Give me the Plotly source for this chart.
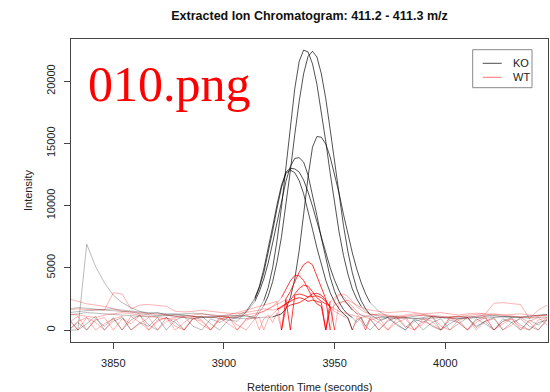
import plotly.graph_objects as go

# ---------------- data ----------------
rt = [3830, 3834, 3838, 3842, 3846, 3850, 3854, 3858, 3862, 3866, 3870, 3874, 3878, 3882, 3886, 3890, 3894, 3898, 3902, 3906, 3910, 3914,
      3916, 3918, 3920, 3922, 3924, 3926, 3928, 3930, 3932, 3934, 3936, 3938, 3940, 3942, 3944, 3946, 3948, 3950, 3952, 3954, 3956, 3958, 3960, 3962, 3964, 3966,
      3970, 3974, 3978, 3982, 3986, 3990, 3994, 3998, 4002, 4006, 4010, 4014, 4018, 4022, 4026, 4030, 4034, 4038, 4042, 4046]

ko1 = ([1400, 1500, 1550, 1600, 1650, 1700, 1600, 1500, 1450, 1400, 1350, 1300, 1250, 1300, 1350, 1300, 1200, 1150, 1200, 1150, 1100, 1050]
       + [1730, 2370, 3420, 5000, 7200, 9900, 13100, 16400, 19400, 21600, 22500, 22350, 21400, 19750, 17600, 15150, 12600, 10100, 7900, 6000, 4500, 3300, 2500, 1900, 1500, 1250]
       + [1100, 1000, 900, 1000, 1100, 1200, 1100, 1000, 900, 950, 1000, 1100, 1200, 1150, 1100, 1000, 1050, 1100, 1200, 1250])
ko2 = ([0, 600, 0, 900, 300, 1000, 0, 800, 1200, 400, 0, 1000, 600, 0, 900, 1100, 500, 0, 800, 1000, 1200, 900]
       + [1460, 1960, 2740, 3890, 5500, 7500, 10000, 12800, 15700, 18400, 20600, 22000, 22400, 21950, 20600, 18600, 16100, 13400, 10800, 8400, 6300, 4600, 3300, 2350, 1700, 1250]
       + [800, 1000, 500, 0, 700, 900, 300, 0, 800, 600, 0, 900, 500, 0, 700, 1000, 400, 0, 600, 800])
ko3 = ([1700, 1800, 1750, 1650, 1600, 1550, 1500, 1450, 1300, 1200, 1150, 1250, 1300, 1200, 1100, 1000, 1050, 1100, 1000, 950, 900, 1000]
       + [1000, 1000, 1000, 1050, 1150, 1300, 1700, 2600, 4100, 6400, 9300, 12300, 14700, 15550, 15500, 14950, 13900, 12550, 11000, 9300, 7700, 6200, 4900, 3800, 2900, 2200]
       + [1500, 1100, 1000, 950, 900, 1000, 1100, 1050, 1000, 950, 900, 1000, 1100, 1150, 1100, 1050, 1000, 1100, 1200, 1250])
ko4 = ([900, 0, 500, 1100, 0, 700, 1000, 0, 600, 300, 1000, 0, 800, 1100, 300, 0, 900, 600, 1000, 1000, 1400, 2300]
       + [3100, 4100, 5400, 7000, 8700, 10400, 11950, 13150, 13800, 13850, 13500, 12450, 10950, 9200, 7400, 5700, 4250, 3100, 2250, 1650, 1250, 1000, 600, 1000, 300, 900]
       + [0, 700, 1000, 200, 800, 0, 600, 900, 0, 500, 1000, 300, 700, 0, 900, 600, 0, 800, 400, 1000])
ko5 = ([1200, 1300, 1400, 1350, 1300, 1250, 1200, 1150, 1100, 1050, 1100, 1150, 1200, 1150, 1100, 1050, 1000, 1050, 1100, 1150, 1500, 2500]
       + [3400, 4600, 6200, 7950, 9800, 11450, 12700, 13000, 12950, 12700, 12050, 11100, 9950, 8700, 7400, 6150, 5000, 4000, 3150, 2500, 2000, 1600, 1350, 1200, 1100, 1050]
       + [1000, 1050, 1100, 1000, 950, 900, 950, 1000, 1050, 1100, 1050, 1000, 950, 1000, 1050, 1100, 1000, 950, 1000, 1050])
ko6 = ([0, 0, 6900, 5100, 3800, 2800, 2200, 1800, 1500, 1300, 1400, 1200, 1100, 1000, 900, 1000, 1100, 900, 800, 700, 1450, 2600]
       + [3500, 4900, 6500, 8300, 10100, 11650, 12600, 12850, 12650, 12000, 10950, 9600, 8100, 6600, 5200, 4000, 3000, 2250, 1700, 1300, 1000, 0, 800, 1000, 300, 0]
       + [700, 1000, 400, 0, 900, 600, 1100, 0, 500, 900, 1000, 200, 700, 1000, 0, 600, 900, 300, 0, 800])

wt1 = ([2500, 2300, 2100, 2000, 1900, 1700, 1500, 1450, 1400, 1350, 1300, 1200, 1100, 1000, 1050, 1100, 1000, 1100, 1200, 1400, 1600, 1800]
       + [1900, 2000, 2100, 2200, 2300, 0, 2500, 3100, 3900, 4650, 5250, 5490, 5240, 4320, 3300, 2500, 0, 2400, 2800, 2900, 2700, 2300, 1900, 1600, 1400, 1300]
       + [1200, 1100, 1000, 1100, 1200, 1150, 1100, 1000, 1050, 1100, 1000, 1100, 1200, 1300, 1200, 1100, 1050, 1000, 1100, 1200])
wt2 = ([800, 0, 1000, 600, 0, 900, 1100, 0, 500, 1000, 0, 700, 900, 0, 1000, 400, 0, 800, 1100, 0, 900, 1200]
       + [1300, 1500, 1700, 1900, 2200, 2600, 3300, 3950, 4380, 4360, 3980, 3350, 2600, 2100, 1900, 0, 1700, 2000, 2200, 2300, 2100, 1700, 1300, 900, 0, 800]
       + [1000, 0, 600, 900, 0, 500, 1100, 300, 0, 800, 1000, 0, 700, 900, 0, 400, 1000, 600, 0, 900])
wt3 = ([1600, 1700, 1650, 1600, 1600, 3000, 2900, 1700, 2000, 2050, 2000, 1900, 1500, 1450, 1500, 1600, 1500, 1400, 1350, 1300, 1400, 1500]
       + [1600, 1700, 1650, 1600, 1700, 1800, 2100, 2400, 2900, 3350, 3600, 3520, 3080, 2600, 2300, 2100, 1900, 0, 2100, 2300, 2400, 2200, 2000, 1800, 1700, 1600]
       + [1500, 1400, 1450, 1500, 1400, 1300, 1350, 1400, 1300, 1200, 1300, 1350, 1300, 1250, 1200, 1250, 1300, 1200, 1150, 1200])
wt4 = ([0, 700, 1000, 0, 500, 900, 0, 1100, 600, 0, 800, 1000, 300, 0, 900, 700, 0, 1000, 500, 0, 800, 1000]
       + [0, 900, 1200, 600, 1400, 0, 1800, 2000, 2100, 2200, 2400, 2650, 2900, 2950, 2800, 2400, 1800, 1500, 1300, 1100, 900, 0, 1000, 700, 0, 1000]
       + [600, 0, 900, 1100, 0, 700, 400, 0, 1000, 800, 0, 600, 1000, 0, 700, 900, 200, 0, 800, 1000])
wt5 = ([1300, 1200, 1100, 1000, 1200, 1300, 1400, 1300, 1200, 1100, 1000, 900, 1000, 1100, 1200, 1300, 1200, 1100, 1000, 1100, 1200, 1300]
       + [1400, 1500, 1700, 1900, 2100, 2300, 2450, 0, 2800, 2900, 2800, 2650, 2700, 2750, 2600, 2300, 1900, 1700, 1500, 1400, 1300, 1200, 1100, 1000, 1100, 1200]
       + [1300, 1200, 1100, 1200, 1300, 1250, 1200, 1100, 1000, 1100, 1200, 1250, 1300, 2150, 2200, 2150, 2050, 900, 1600, 2000])
wt6 = ([600, 1100, 0, 800, 1000, 0, 900, 500, 1200, 0, 700, 1000, 0, 600, 1100, 800, 0, 900, 1000, 400, 0, 900]
       + [1000, 0, 900, 1300, 1600, 1900, 2100, 2300, 2500, 2600, 2500, 2300, 2400, 2300, 2200, 0, 2300, 2600, 2900, 2700, 2300, 1900, 1500, 1200, 1000, 900]
       + [0, 800, 1100, 300, 0, 900, 700, 0, 1000, 600, 0, 800, 1100, 0, 500, 900, 0, 700, 1000, 400])

ko_samples = [ko1, ko2, ko3, ko4, ko5, ko6]
wt_samples = [wt1, wt2, wt3, wt4, wt5, wt6]
# retention-time window of the detected peak for each sample (highlighted)
ko_windows = [(3918, 3962), (3918, 3966), (3922, 3966), (3914, 3958), (3914, 3958), (3914, 3958)]
wt_windows = [(3926, 3948), (3926, 3948), (3924, 3950), (3926, 3948), (3928, 3948), (3924, 3948)]

groups = ["KO", "WT"]
title = "Extracted Ion Chromatogram: 411.2 - 411.3 m/z"
x_ticks = [3850, 3900, 3950, 4000]
y_ticks = [0, 5000, 10000, 15000, 20000]

# ---------------- styling ----------------
W, H = 550, 392
ML, MR, MT, MB = 71, 2, 39, 50
PW, PH = W - ML - MR, H - MT - MB
FONT = "Liberation Sans, Arial, Helvetica, sans-serif"
AXC = "#444444"

KO_LIGHT, KO_DARK = "rgba(0,0,0,0.27)", "rgba(0,0,0,0.68)"
WT_LIGHT, WT_DARK = "rgba(255,0,0,0.30)", "rgba(255,0,0,0.78)"


def pxx(x):
    return (x - ML) / PW


def pxy(y):
    return (H - MB - y) / PH


def split(t, y, lo, hi):
    pre = [(a, b) for a, b in zip(t, y) if a <= lo]
    mid = [(a, b) for a, b in zip(t, y) if lo <= a <= hi]
    post = [(a, b) for a, b in zip(t, y) if a >= hi]
    return pre, mid, post


fig = go.Figure()


def add_seg(pts, color):
    if len(pts) < 2:
        return
    fig.add_trace(go.Scatter(x=[p[0] for p in pts], y=[p[1] for p in pts], mode="lines",
                             line=dict(color=color, width=1), showlegend=False, hoverinfo="skip"))


for samples, windows, light, dark in [(ko_samples, ko_windows, KO_LIGHT, KO_DARK),
                                      (wt_samples, wt_windows, WT_LIGHT, WT_DARK)]:
    for ys, (lo, hi) in zip(samples, windows):
        pre, mid, post = split(rt, ys, lo, hi)
        add_seg(pre, light)
        add_seg(post, light)
        add_seg(mid, dark)

axis_common = dict(showgrid=False, zeroline=False, showline=True, linecolor=AXC, linewidth=1,
                   mirror=True, ticks="outside", ticklen=6, tickwidth=1, tickcolor=AXC,
                   tickfont=dict(family=FONT, size=11, color="#222222"))

fig.update_layout(
    width=W, height=H,
    margin=dict(l=ML, r=MR, t=MT, b=MB),
    paper_bgcolor="white", plot_bgcolor="white",
    showlegend=False,
    title=dict(text="<b>" + title + "</b>", x=0.5, xref="paper", xanchor="center",
               y=1 - 16 / H, yref="container", yanchor="middle",
               font=dict(family=FONT, size=12.5, color="#111111")),
    xaxis=dict(range=[3830.9, 4046.4], tickvals=x_ticks, ticktext=[str(v) for v in x_ticks],
               ticklabelstandoff=5, **axis_common),
    yaxis=dict(range=[-965, 23393], tickvals=y_ticks, ticktext=[str(v) for v in y_ticks], tickangle=-90,
               ticklabelstandoff=5, **axis_common),
)

annotations = [
    dict(text="Retention Time (seconds)", xref="paper", yref="paper", x=0.5, y=0, yshift=-45,
         xanchor="center", yanchor="middle", showarrow=False,
         font=dict(family=FONT, size=11, color="#222222")),
    dict(text="Intensity", xref="paper", yref="paper", x=0, y=0.5, xshift=-(ML - 27.5),
         xanchor="center", yanchor="middle", textangle=-90, showarrow=False,
         font=dict(family=FONT, size=11, color="#222222")),
    dict(text="010.png", xref="paper", yref="paper", x=pxx(86), y=pxy(84),
         xanchor="left", yanchor="middle", showarrow=False,
         font=dict(family="Liberation Serif, Times New Roman, serif", size=50, color="#ff0000")),
]

# legend box drawn in pixel coordinates
shapes = [dict(type="rect", xref="paper", yref="paper", x0=pxx(472.7), x1=pxx(532), y0=pxy(87.7), y1=pxy(49.7),
               line=dict(color="#888888", width=1), fillcolor="white", layer="above")]
leg_colors = ["rgba(0,0,0,0.7)", "rgba(255,0,0,0.55)"]
for i, (g, c) in enumerate(zip(groups, leg_colors)):
    yy = 63.3 + 14 * i
    shapes.append(dict(type="line", xref="paper", yref="paper", x0=pxx(482.7), x1=pxx(501.7), y0=pxy(yy), y1=pxy(yy),
                       line=dict(color=c, width=1), layer="above"))
    annotations.append(dict(text=g, xref="paper", yref="paper", x=pxx(510.5), y=pxy(yy), xanchor="left",
                            yanchor="middle", showarrow=False,
                            font=dict(family=FONT, size=11, color="#222222")))

fig.update_layout(annotations=annotations, shapes=shapes)
fig.write_html("out.html")
